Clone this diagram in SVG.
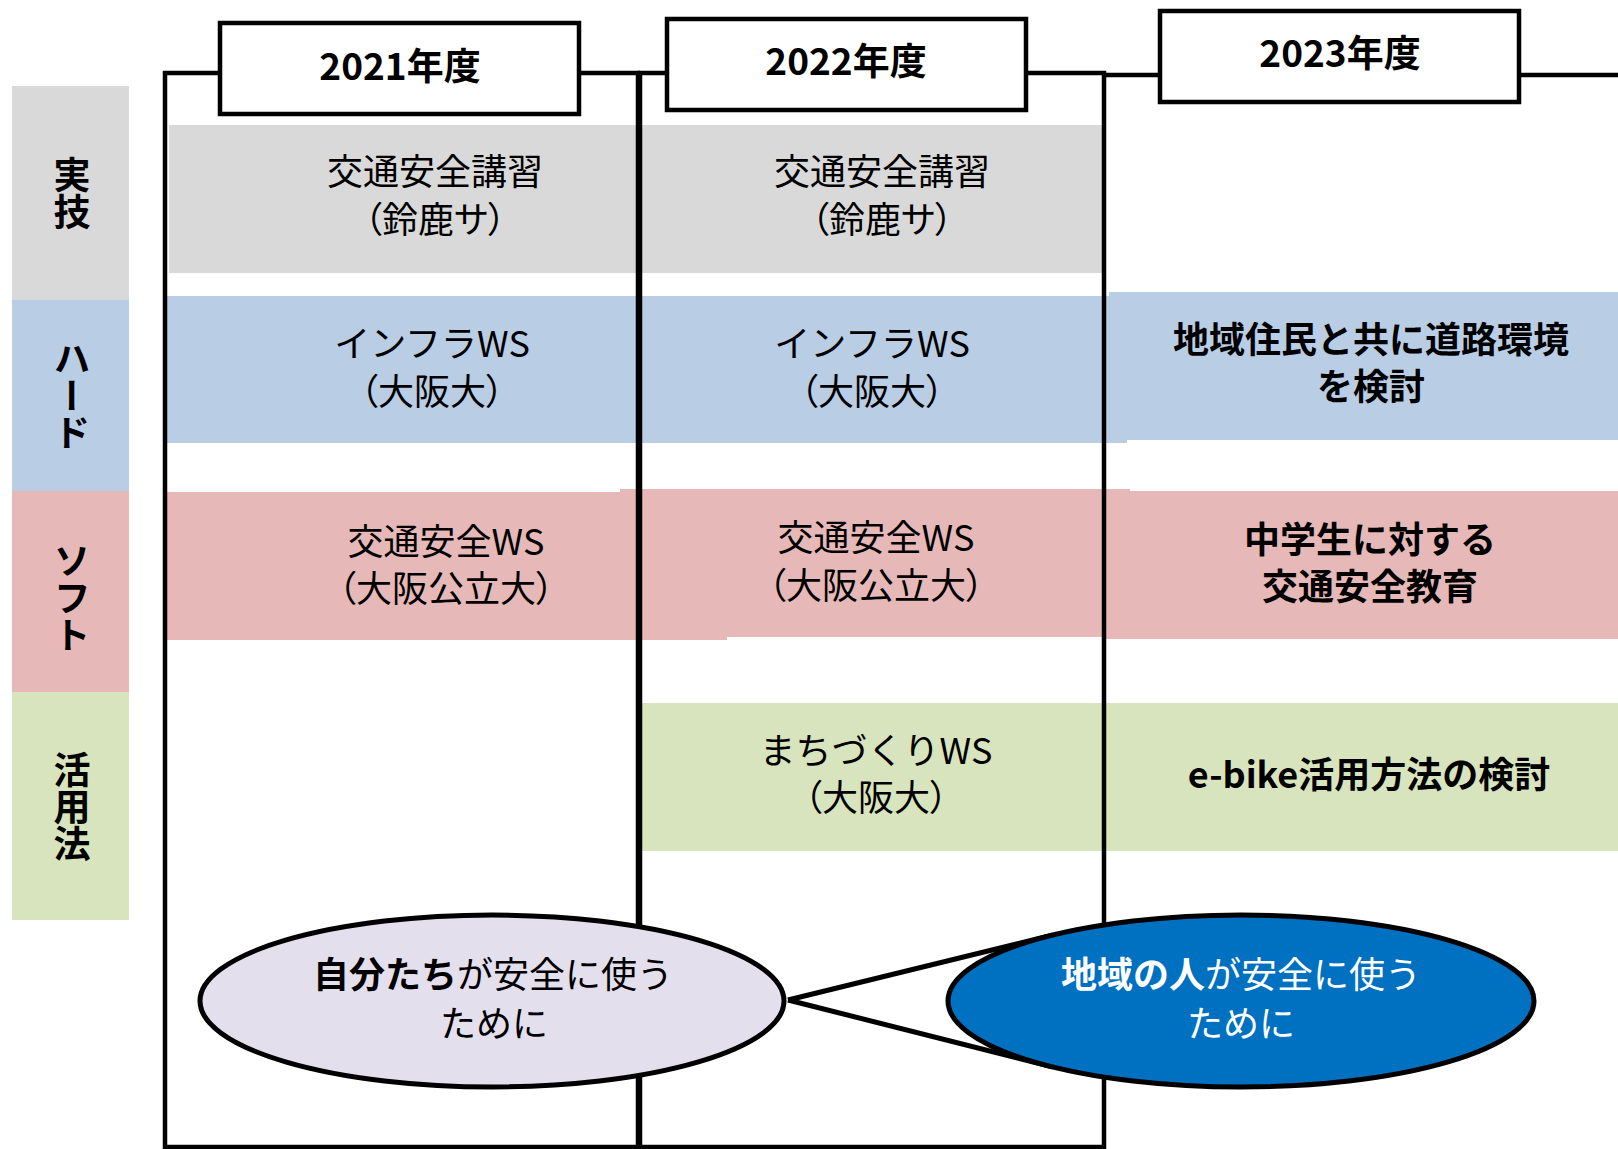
<svg xmlns="http://www.w3.org/2000/svg" width="1618" height="1149" viewBox="0 0 1618 1149">
<style>
text{font-family:"Noto Sans CJK JP","Noto Sans",sans-serif;font-size:36px;fill:#000;text-anchor:middle}
.p{font-feature-settings:"palt"}
.b{font-weight:bold}
.yr{font-weight:bold;font-size:37px}
.vl{font-weight:bold;font-size:37px;writing-mode:vertical-rl}
.w{fill:#fff}
.frame{fill:none;stroke:#000;stroke-width:4.5}
.ybox{fill:#fff;stroke:#000;stroke-width:4.5}
.gray{fill:#D9D9D9}.blue{fill:#B9CDE5}.pink{fill:#E6B9B8}.green{fill:#D7E4BD}
.conn{stroke:#000;stroke-width:5;fill:none}
.ell{stroke:#000;stroke-width:5}
</style>
<rect width="1618" height="1149" fill="#fff"/>

<g id="row-labels">
  <g id="label-jitsugi"><rect class="gray" x="12" y="86" width="117" height="214"/><text class="vl" x="72" y="193">実技</text></g>
  <g id="label-hard"><rect class="blue" x="12" y="300" width="117" height="191"/><text class="vl" x="72" y="396">ハード</text></g>
  <g id="label-soft"><rect class="pink" x="12" y="491" width="117" height="201"/><text class="vl" x="72" y="598">ソフト</text></g>
  <g id="label-katsuyo"><rect class="green" x="12" y="692" width="117" height="228"/><text class="vl" x="72" y="807">活用法</text></g>
</g>

<g id="bands">
  <rect class="gray" x="169" y="125" width="934" height="148"/>
  <rect class="blue" x="167" y="296" width="960" height="147"/>
  <rect class="blue" x="1109" y="292" width="509" height="148"/>
  <rect class="pink" x="167" y="492" width="560" height="148"/>
  <rect class="pink" x="1103" y="491" width="515" height="148"/>
  <rect class="pink" x="620" y="489" width="510" height="148"/>
  <rect class="green" x="641" y="703" width="977" height="148"/>
</g>

<g id="frames">
  <rect class="frame" x="165" y="73" width="473" height="1074"/>
  <rect class="frame" x="640" y="73" width="464" height="1074"/>
  <line class="frame" x1="1104" y1="75" x2="1618" y2="75"/>
</g>

<g id="year-2021"><rect class="ybox" x="220" y="23" width="359" height="91"/><text class="yr" x="400" y="80">2021年度</text></g>
<g id="year-2022"><rect class="ybox" x="667" y="19" width="359" height="91"/><text class="yr" x="846" y="75">2022年度</text></g>
<g id="year-2023"><rect class="ybox" x="1160" y="11" width="359" height="91"/><text class="yr" x="1340" y="67">2023年度</text></g>

<g id="n2021-jitsugi"><text x="435" y="185">交通安全講習<tspan class="p" x="435" dy="48">（鈴鹿サ）</tspan></text></g>
<g id="n2022-jitsugi"><text x="882" y="185">交通安全講習<tspan class="p" x="882" dy="48">（鈴鹿サ）</tspan></text></g>
<g id="n2021-hard"><text x="432" y="357">インフラWS<tspan class="p" x="432" dy="48">（大阪大）</tspan></text></g>
<g id="n2022-hard"><text x="872" y="357">インフラWS<tspan class="p" x="872" dy="48">（大阪大）</tspan></text></g>
<g id="n2023-hard"><text class="b" x="1371" y="353">地域住民と共に道路環境<tspan x="1371" dy="47">を検討</tspan></text></g>
<g id="n2021-soft"><text x="446" y="555">交通安全WS<tspan class="p" x="446" dy="47">（大阪公立大）</tspan></text></g>
<g id="n2022-soft"><text x="876" y="551">交通安全WS<tspan class="p" x="876" dy="48">（大阪公立大）</tspan></text></g>
<g id="n2023-soft"><text class="b" x="1370" y="553">中学生に対する<tspan x="1370" dy="47">交通安全教育</tspan></text></g>
<g id="n2022-katsuyo"><text x="876" y="764">まちづくりWS<tspan class="p" x="876" dy="47">（大阪大）</tspan></text></g>
<g id="n2023-katsuyo"><text class="b" x="1369" y="788">e-bike活用方法の検討</text></g>

<g id="connectors">
  <line class="conn" x1="788" y1="1000" x2="1053" y2="935"/>
  <line class="conn" x1="788" y1="1000" x2="1053" y2="1067"/>
</g>

<g id="goal-self">
  <ellipse class="ell" cx="492" cy="1001" rx="292" ry="86" fill="#E4DFEC"/>
  <text x="493" y="988"><tspan class="b">自分たち</tspan>が安全に使う<tspan x="494" dy="49">ために</tspan></text>
</g>
<g id="goal-community">
  <ellipse class="ell" cx="1241" cy="1001" rx="293" ry="86" fill="#0070C0"/>
  <text class="w" x="1241" y="988"><tspan class="b">地域の人</tspan>が安全に使う<tspan x="1241" dy="49">ために</tspan></text>
</g>
</svg>
